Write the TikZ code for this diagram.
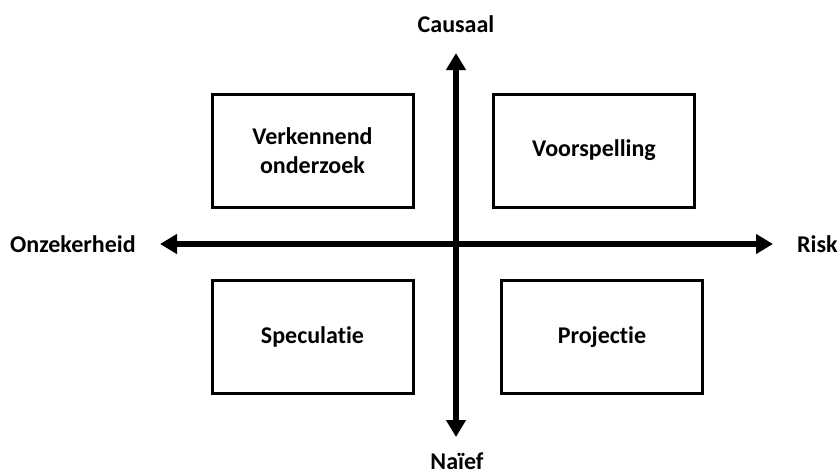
\documentclass[tikz,border=0pt]{standalone}
\usepackage{fontspec}
\setmainfont{Carlito}[Ligatures=NoCommon]
\usetikzlibrary{arrows.meta}
\begin{document}
\begin{tikzpicture}[x=1pt,y=-1pt,
  every node/.style={font=\fontsize{24}{29}\selectfont\bfseries, inner sep=0pt},
  quadrant/.style={draw=black, line width=3pt, align=center, minimum width=201pt, minimum height=113pt},
  axis/.style={line width=6pt, {Triangle[width=19pt,length=17pt]}-{Triangle[width=19pt,length=17pt]}},
  axislabel/.style={anchor=base}]
  \useasboundingbox (0,0) rectangle (839,475);

  % quadrants
  \node[quadrant] (verk) at (312.5,150.5) {Verkennend\\onderzoek};
  \node[quadrant] (voor) at (594,150.5) {Voorspelling};
  \node[quadrant] (spec) at (312.5,337) {Speculatie};
  \node[quadrant] (proj) at (602,337) {Projectie};

  % axis end points
  \coordinate (top) at (456,53);
  \coordinate (bottom) at (456,437);
  \coordinate (left) at (160,244);
  \coordinate (right) at (773,244);

  \draw[axis] (left) -- (right);
  \draw[axis] (bottom) -- (top);

  % axis labels
  \node[axislabel] (causaal) at (456,32) {Causaal};
  \node[axislabel] (naief) at (457,469) {Naïef};
  \node[axislabel, anchor=base west] (onzek) at (10,252) {Onzekerheid};
  \node[axislabel, anchor=base west] (risk) at (797,252) {Risk};
\end{tikzpicture}
\end{document}
